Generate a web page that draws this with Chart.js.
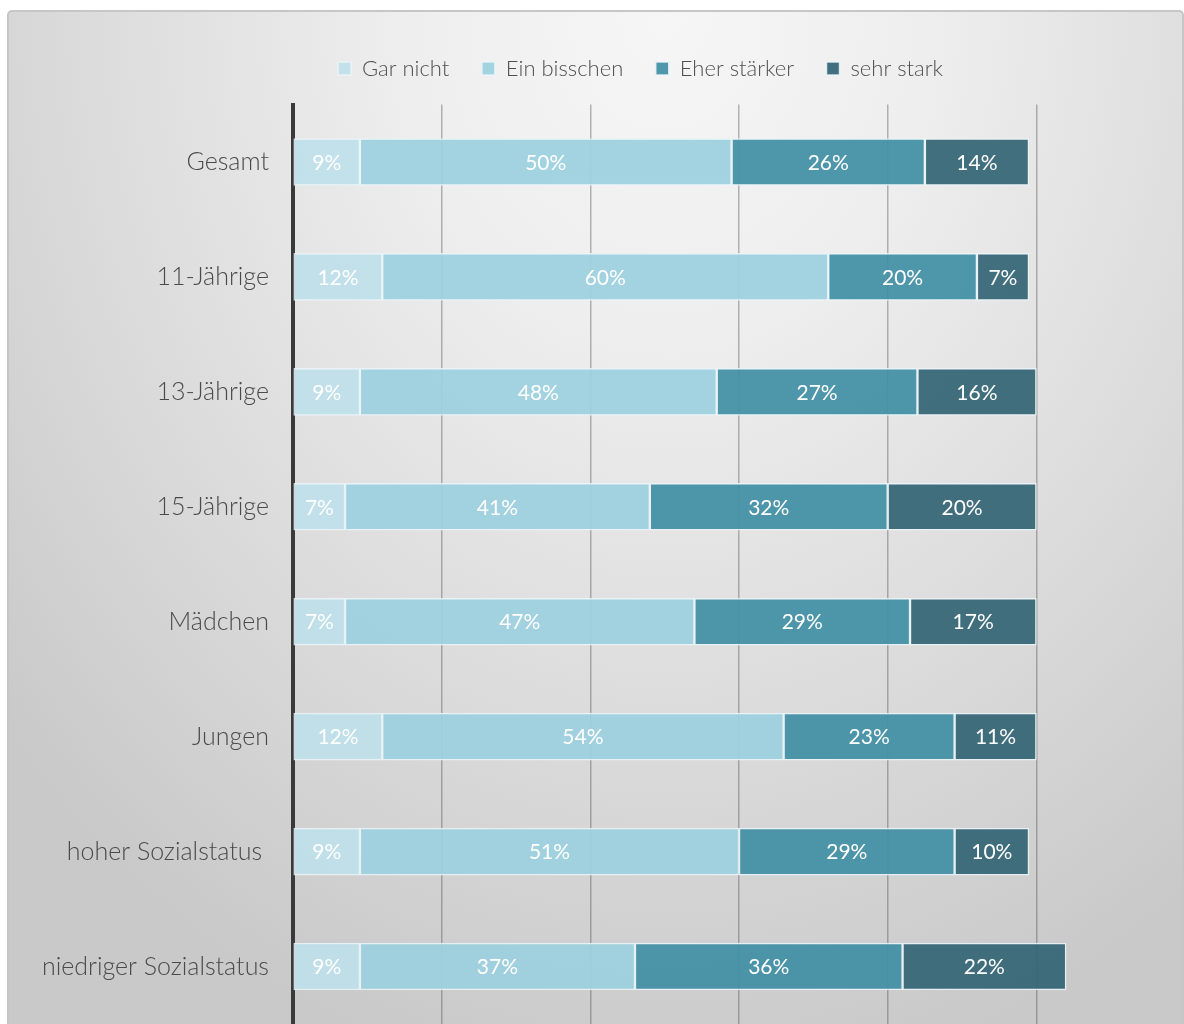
<!DOCTYPE html>
<html lang="de">
<head>
<meta charset="utf-8">
<title>Stress durch Schule</title>
<script src="https://cdn.jsdelivr.net/npm/chart.js@4.4.1/dist/chart.umd.min.js"></script>
<style>
  html, body { margin: 0; padding: 0; background: #fff; }
  body { width: 1184px; height: 1024px; position: relative; overflow: hidden; }
  .panel {
    position: absolute; left: 7px; top: 10px; width: 1173px; height: 1030px;
    border: 2px solid #c6c6c6; border-bottom: none; border-radius: 5px 5px 0 0;
    background: radial-gradient(ellipse 75% 105% at 56% 0%, #f6f6f6 0%, #eeeeee 30%, #dcdcdc 65%, #c9c9c9 100%);
  }
  .wrap { position: absolute; left: 0; top: 0; width: 1184px; height: 1024px; }
</style>
</head>
<body>
<div class="panel"></div>
<div class="wrap"><canvas id="chart" width="1184" height="1024"></canvas></div>
<script>
// Groups and answer shares (percent)
const categories = ["Gesamt", "11-Jährige", "13-Jährige", "15-Jährige", "Mädchen", "Jungen", "hoher Sozialstatus ", "niedriger Sozialstatus"];
const garNicht    = [9, 12, 9, 7, 7, 12, 9, 9];
const einBisschen = [50, 60, 48, 41, 47, 54, 51, 37];
const eherStaerker = [26, 20, 27, 32, 29, 23, 29, 36];
const sehrStark   = [14, 7, 16, 20, 17, 11, 10, 22];
const seriesNames = ["Gar nicht", "Ein bisschen", "Eher stärker", "sehr stark"];
const gridTicks = [20, 40, 60, 80, 100];

const FONT = "Lato, 'Source Sans Pro', 'Open Sans', sans-serif";

function makeSet(label, data, color) {
    return {
        label: label,
        data: data,
        backgroundColor: color,
        borderColor: 'rgba(235, 245, 248, 0.85)',
        borderWidth: 1.5,
        borderSkipped: false,
        barThickness: 47
    };
}

// white percent labels in the middle of every segment
const segmentLabels = {
    id: 'segmentLabels',
    afterDatasetsDraw(chart) {
        const ctx = chart.ctx;
        ctx.save();
        ctx.fillStyle = '#ffffff';
        ctx.font = '400 21px ' + FONT;
        ctx.textAlign = 'center';
        ctx.textBaseline = 'middle';
        chart.data.datasets.forEach((ds, i) => {
            chart.getDatasetMeta(i).data.forEach((bar, j) => {
                const p = bar.getCenterPoint();
                ctx.fillText(ds.data[j] + '%', p.x, p.y + 1);
            });
        });
        ctx.restore();
    }
};

// legend sits a bit right of the canvas centre and higher up
const legendShift = {
    id: 'legendShift',
    beforeDraw(chart) {
        const lg = chart.legend;
        if (!lg || lg._shifted) return;
        lg.left += 100; lg.right += 100;
        lg.top -= 15; lg.bottom -= 15;
        lg._shifted = true;
    }
};

const ctx = document.getElementById('chart').getContext('2d');
const chart = new Chart(ctx, {
    type: 'bar',
    data: {
        labels: categories,
        datasets: [
            makeSet(seriesNames[0], garNicht, 'rgba(190, 224, 233, 0.92)'),
            makeSet(seriesNames[1], einBisschen, 'rgba(156, 208, 222, 0.92)'),
            makeSet(seriesNames[2], eherStaerker, 'rgba(64, 142, 164, 0.92)'),
            makeSet(seriesNames[3], sehrStark, 'rgba(52, 101, 117, 0.93)')
        ]
    },
    options: {
        indexAxis: 'y',
        responsive: false,
        animation: false,
        layout: { padding: { left: 0, right: 103, top: 40, bottom: 0 } },
        plugins: {
            tooltip: { enabled: false },
            legend: {
                position: 'top',
                labels: {
                    color: '#505050',
                    font: { family: FONT, size: 22, weight: '300' },
                    boxWidth: 13,
                    boxHeight: 13,
                    padding: 32.5
                }
            }
        },
        scales: {
            x: {
                stacked: true,
                min: 0,
                max: 106,
                afterFit: scale => { scale.height = 0; },
                ticks: { display: false, stepSize: 20 },
                border: { display: false },
                grid: {
                    drawTicks: false,
                    lineWidth: 1.5,
                    color: c => gridTicks.includes(c.tick.value) ? 'rgba(70, 70, 70, 0.38)' : 'rgba(0,0,0,0)'
                }
            },
            y: {
                stacked: true,
                afterFit: scale => {
                    scale.width = 293;
                    scale.paddingTop = 0;
                    scale.paddingBottom = 0;
                },
                ticks: {
                    color: '#4a4a4a',
                    font: { family: FONT, size: 25, weight: '300' },
                    padding: 24
                },
                grid: { display: false, drawTicks: false },
                border: { display: true, color: '#3a3a3a', width: 4 }
            }
        }
    },
    plugins: [segmentLabels, legendShift]
});
</script>
</body>
</html>
